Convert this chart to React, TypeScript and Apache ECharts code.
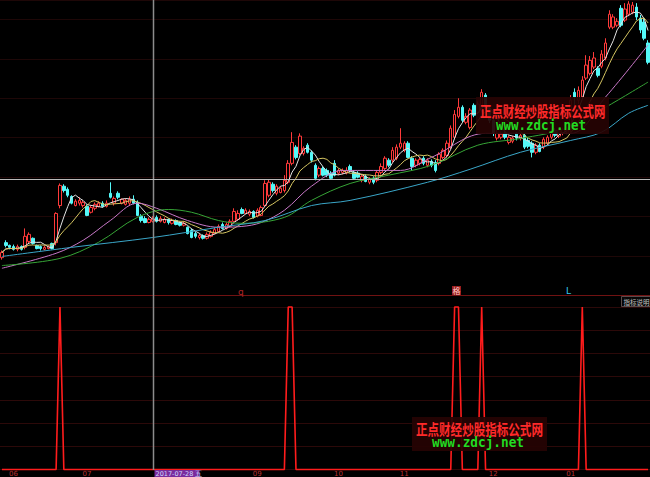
import React, { useEffect, useRef } from 'react';
import * as echarts from 'echarts';

const monthLabels = ['06', '07', '09', '10', '11', '12', '01'];
const monthBars = [3, 22, 66, 87, 104, 127, 147];

const opens = [
  10.96, 11.34, 11.27, 11.24, 11.17, 11.24, 11.22, 11.37, 11.45, 11.27,
  11.24, 11.17, 11.19, 11.32, 11.34, 12.28, 12.77, 12.69, 12.51, 12.28,
  12.34, 12.28, 12.26, 12.11, 12.21, 12.26, 12.34, 12.26, 12.59, 12.34,
  12.59, 12.34, 12.31, 12.34, 12.44, 12.36, 12.01, 11.95, 11.85, 11.88,
  11.98, 11.88, 11.85, 11.93, 11.83, 11.90, 11.85, 11.78, 11.73, 11.65,
  11.57, 11.47, 11.52, 11.45, 11.50, 11.57, 11.62, 11.80, 11.70, 11.75,
  11.88, 11.93, 12.18, 12.08, 12.06, 12.13, 12.01, 12.03, 12.28, 12.54,
  12.82, 12.59, 12.61, 12.66, 12.87, 13.35, 13.76, 13.60, 13.60, 13.81,
  13.63, 13.30, 13.05, 13.22, 13.17, 13.10, 13.35, 13.10, 13.12, 13.10,
  13.27, 13.12, 13.10, 12.92, 13.02, 12.87, 12.97, 12.92, 13.12, 13.22,
  13.43, 13.43, 13.48, 13.76, 13.68, 13.86, 13.48, 13.30, 13.35, 13.48,
  13.30, 13.40, 13.37, 13.35, 13.50, 13.55, 13.76, 14.01, 14.54, 14.77,
  14.39, 14.26, 14.82, 14.64, 14.70, 15.08, 14.75, 14.44, 13.99, 14.01,
  14.11, 13.88, 13.91, 14.09, 13.99, 14.06, 13.93, 13.86, 13.63, 13.81,
  13.76, 13.86, 14.01, 14.19, 14.04, 14.11, 14.14, 14.19, 15.15, 14.95,
  15.03, 15.51, 15.63, 15.79, 15.76, 15.81, 16.02, 16.80, 16.80, 16.85,
  17.28, 16.98, 17.13, 17.18, 17.31, 17.03, 16.93, 16.40,
];

const closes = [
  11.09, 11.27, 11.22, 11.17, 11.24, 11.17, 11.50, 11.55, 11.32, 11.19,
  11.19, 11.22, 11.24, 11.19, 12.08, 12.79, 12.66, 12.54, 12.34, 12.39,
  12.41, 12.36, 12.03, 12.23, 12.31, 12.34, 12.26, 12.34, 12.49, 12.46,
  12.49, 12.44, 12.41, 12.44, 12.34, 12.03, 11.90, 11.85, 11.93, 11.95,
  11.88, 11.95, 11.93, 11.85, 11.90, 11.80, 11.78, 11.83, 11.57, 11.47,
  11.50, 11.52, 11.45, 11.55, 11.60, 11.67, 11.75, 11.70, 11.80, 11.88,
  12.13, 12.08, 12.08, 12.16, 12.13, 11.98, 12.16, 12.23, 12.84, 12.87,
  12.66, 12.77, 12.72, 12.92, 13.35, 13.88, 13.50, 14.04, 13.73, 13.63,
  13.43, 12.97, 13.22, 13.05, 13.05, 12.97, 13.05, 13.17, 13.17, 13.17,
  13.17, 12.97, 13.00, 13.02, 12.89, 12.94, 12.87, 13.12, 13.27, 13.48,
  13.30, 13.68, 13.76, 13.86, 13.86, 13.50, 13.27, 13.43, 13.45, 13.35,
  13.43, 13.30, 13.17, 13.58, 13.68, 13.86, 14.24, 14.59, 14.77, 14.44,
  14.54, 14.70, 14.57, 14.85, 15.15, 14.75, 14.44, 14.11, 14.11, 14.09,
  14.01, 14.01, 13.99, 13.99, 14.06, 13.76, 13.78, 13.63, 13.81, 13.65,
  13.96, 14.01, 14.16, 14.06, 14.19, 14.21, 14.24, 14.95, 15.03, 15.20,
  15.46, 15.84, 15.96, 16.02, 15.58, 16.12, 16.40, 17.13, 17.06, 16.95,
  16.85, 17.26, 17.39, 17.36, 17.06, 16.73, 16.52, 15.91,
];

const lows = [
  10.91, 11.22, 11.17, 11.14, 11.12, 11.14, 11.17, 11.32, 11.29, 11.17,
  11.14, 11.14, 11.17, 11.17, 11.27, 12.21, 12.61, 12.49, 12.31, 12.26,
  12.28, 12.23, 12.01, 12.08, 12.16, 12.23, 12.23, 12.23, 12.46, 12.28,
  12.44, 12.31, 12.28, 12.28, 12.31, 12.01, 11.85, 11.83, 11.83, 11.85,
  11.85, 11.85, 11.83, 11.80, 11.80, 11.78, 11.75, 11.75, 11.55, 11.45,
  11.45, 11.42, 11.42, 11.42, 11.47, 11.55, 11.60, 11.67, 11.67, 11.73,
  11.83, 11.90, 12.06, 12.06, 12.01, 11.95, 11.98, 12.01, 12.26, 12.49,
  12.61, 12.54, 12.59, 12.61, 12.82, 13.30, 13.45, 13.55, 13.55, 13.60,
  13.37, 12.92, 13.00, 13.02, 13.00, 12.94, 13.02, 13.05, 13.07, 13.07,
  13.12, 12.94, 12.97, 12.87, 12.87, 12.82, 12.82, 12.87, 13.07, 13.17,
  13.25, 13.37, 13.43, 13.71, 13.63, 13.48, 13.17, 13.25, 13.30, 13.30,
  13.25, 13.25, 13.12, 13.30, 13.45, 13.50, 13.71, 13.96, 14.49, 14.39,
  14.34, 14.21, 14.52, 14.59, 14.64, 14.70, 14.37, 14.04, 13.93, 13.96,
  13.96, 13.83, 13.86, 13.93, 13.93, 13.71, 13.73, 13.50, 13.58, 13.63,
  13.71, 13.81, 13.96, 14.01, 13.99, 14.06, 14.09, 14.14, 14.82, 14.85,
  14.98, 15.46, 15.58, 15.74, 15.53, 15.76, 15.96, 16.75, 16.75, 16.80,
  16.80, 16.93, 17.08, 17.13, 16.98, 16.65, 16.47, 15.86,
];

const highs = [
  11.14, 11.40, 11.29, 11.29, 11.29, 11.27, 11.70, 11.60, 11.47, 11.29,
  11.27, 11.27, 11.27, 11.34, 12.11, 12.84, 12.82, 12.74, 12.54, 12.44,
  12.49, 12.41, 12.31, 12.28, 12.36, 12.39, 12.39, 12.41, 12.87, 12.51,
  12.64, 12.46, 12.46, 12.51, 12.54, 12.41, 12.06, 12.01, 11.98, 12.01,
  12.03, 12.01, 11.98, 11.95, 11.95, 11.93, 11.88, 11.88, 11.75, 11.70,
  11.62, 11.57, 11.55, 11.60, 11.65, 11.73, 11.80, 11.85, 11.85, 11.93,
  12.21, 12.16, 12.23, 12.21, 12.18, 12.16, 12.21, 12.28, 12.92, 12.94,
  12.87, 12.82, 12.77, 13.05, 13.43, 14.14, 13.81, 14.11, 13.78, 13.86,
  13.68, 13.35, 13.27, 13.27, 13.22, 13.15, 13.43, 13.22, 13.22, 13.25,
  13.32, 13.17, 13.15, 13.07, 13.07, 13.00, 13.02, 13.17, 13.35, 13.53,
  13.48, 13.76, 13.83, 14.24, 13.91, 13.91, 13.53, 13.48, 13.50, 13.53,
  13.48, 13.45, 13.43, 13.63, 13.73, 13.93, 14.31, 14.70, 15.00, 14.82,
  14.62, 14.75, 14.87, 14.92, 15.23, 15.13, 14.80, 14.49, 14.19, 14.16,
  14.16, 14.06, 14.04, 14.14, 14.11, 14.11, 13.99, 13.91, 13.86, 13.86,
  14.01, 14.06, 14.21, 14.24, 14.24, 14.26, 14.29, 15.08, 15.25, 15.30,
  15.56, 16.09, 16.07, 16.17, 15.81, 16.22, 16.52, 17.23, 17.13, 17.03,
  17.36, 17.41, 17.46, 17.44, 17.41, 17.11, 17.03, 16.47,
];

// indicator: bars where the signal fires (value 1), 0 elsewhere
const signalBars = [15, 74, 75, 117, 118, 124, 150];

// longer moving averages: [bar index, price]
const ma20Pts = [
  [0, 10.69], [14, 11.07], [21, 11.40], [28, 11.90], [35, 12.34], [40, 12.21],
  [48, 11.90], [56, 11.73], [62, 11.75], [67, 11.85], [73, 12.16], [80, 12.77],
  [88, 13.17], [96, 13.17], [103, 13.17], [111, 13.50], [125, 14.11], [147, 14.11],
  [156, 15.03], [167, 16.35],
];
const ma30Pts = [
  [0, 10.76], [15, 10.94], [25, 11.35], [35, 11.98], [43, 12.18], [49, 12.11],
  [56, 11.90], [62, 11.83], [73, 11.98], [80, 12.41], [90, 12.84], [100, 13.05],
  [111, 13.30], [123, 13.81], [134, 13.98], [146, 14.24], [156, 14.77], [167, 15.41],
];
const ma60Pts = [
  [0, 10.99], [18, 11.22], [39, 11.47], [56, 11.73], [68, 11.90], [80, 12.28],
  [90, 12.41], [110, 12.87], [121, 13.20], [134, 13.63], [147, 13.93], [155, 14.14],
  [162, 14.62], [167, 14.82],
];

function movingAverage(vals: number[], n: number): number[] {
  return vals.map((_, i) => {
    const s = Math.max(0, i - n + 1);
    let sum = 0;
    for (let k = s; k <= i; k++) sum += vals[k];
    return +(sum / (i - s + 1)).toFixed(3);
  });
}

export default function App() {
  const ref = useRef<HTMLDivElement>(null);

  useEffect(() => {
    if (!ref.current) return;
    const chart = echarts.init(ref.current, null, { renderer: 'svg' });
    const N = closes.length;
    const idx = Array.from({ length: N }, (_, i) => String(i));
    const categories = idx.map((_, i) => {
      const k = monthBars.indexOf(i);
      return k >= 0 ? monthLabels[k] : '';
    });
    const candles = opens.map((o, i) => [o, closes[i], lows[i], highs[i]]);
    const signal = idx.map((_, i) => (signalBars.indexOf(i) >= 0 ? 1 : 0));
    const ma5 = movingAverage(closes, 5);
    const ma10 = movingAverage(closes, 10);

    const smallFont = 'DejaVu Sans';
    const cjk = '"Noto Sans CJK SC", sans-serif';

    const option: any = {
      animation: false,
      backgroundColor: '#000000',
      grid: [
        { left: 0, right: 0, top: 0, bottom: 181.5, outerBoundsMode: 'none', containLabel: false },
        { left: 0, right: 0, top: 307, bottom: 7.5, outerBoundsMode: 'none', containLabel: false },
      ],
      xAxis: [
        {
          type: 'category', gridIndex: 0, data: idx,
          axisLine: { show: true, lineStyle: { color: '#701212', width: 1 } },
          axisTick: { show: false }, axisLabel: { show: false }, splitLine: { show: false },
        },
        {
          type: 'category', gridIndex: 1, data: categories,
          axisLine: { show: false }, axisTick: { show: false },
          axisLabel: { show: true, interval: 0, color: '#b83030', fontSize: 7, fontFamily: smallFont, margin: 1 },
          splitLine: { show: false },
        },
        {
          type: 'value', gridIndex: 0, min: -0.5, max: N - 0.5, show: false,
          splitLine: { show: false },
        },
      ],
      yAxis: [
        {
          type: 'value', gridIndex: 0, min: 10, max: 17.49, interval: 1,
          axisLine: { show: false }, axisTick: { show: false }, axisLabel: { show: false },
          splitLine: { show: true, lineStyle: { color: '#1e0707', width: 1 } },
        },
        {
          type: 'value', gridIndex: 1, min: 0, max: 1,
          axisLine: { show: false }, axisTick: { show: false }, axisLabel: { show: false },
          splitLine: { show: false },
        },
        {
          type: 'value', gridIndex: 1, min: 0, max: 7, interval: 1,
          axisLine: { show: false }, axisTick: { show: false }, axisLabel: { show: false },
          splitLine: { show: true, lineStyle: { color: '#2c0909', width: 1 } },
        },
      ],
      series: [
        {
          type: 'candlestick', xAxisIndex: 0, yAxisIndex: 0, data: candles,
          barWidth: 3,
          itemStyle: {
            color: '#000000', borderColor: '#ff3a3a',
            color0: '#54f8f8', borderColor0: '#54f8f8', borderWidth: 1,
          },
          z: 2,
        },
        {
          type: 'line', xAxisIndex: 0, yAxisIndex: 0, data: ma5, symbol: 'none',
          lineStyle: { color: '#e4e4e4', width: 1 }, z: 3,
        },
        {
          type: 'line', xAxisIndex: 0, yAxisIndex: 0, data: ma10, symbol: 'none',
          lineStyle: { color: '#d6c662', width: 1 }, z: 3,
        },
        {
          type: 'line', xAxisIndex: 2, yAxisIndex: 0, data: ma20Pts, symbol: 'none', smooth: 0.35,
          lineStyle: { color: '#c878c8', width: 1 }, z: 3,
        },
        {
          type: 'line', xAxisIndex: 2, yAxisIndex: 0, data: ma30Pts, symbol: 'none', smooth: 0.35,
          lineStyle: { color: '#36a436', width: 1 }, z: 3,
        },
        {
          type: 'line', xAxisIndex: 2, yAxisIndex: 0, data: ma60Pts, symbol: 'none', smooth: 0.35,
          lineStyle: { color: '#3aa6c8', width: 1 }, z: 3,
        },
        {
          type: 'line', xAxisIndex: 1, yAxisIndex: 1, data: signal, symbol: 'none', clip: false,
          lineStyle: { color: '#ff1c1c', width: 1.6 }, z: 3,
        },
      ],
      graphic: [
        // crosshair
        { type: 'line', shape: { x1: 153.5, y1: 0, x2: 153.5, y2: 470 }, style: { stroke: '#8c8c8c', lineWidth: 1.5 }, z: 50 },
        { type: 'line', shape: { x1: 0, y1: 179.5, x2: 650, y2: 179.5 }, style: { stroke: '#b8b8b8', lineWidth: 1 }, z: 50 },
        // crosshair date label
        { type: 'rect', shape: { x: 154.5, y: 470, width: 45, height: 7 }, style: { fill: '#7a2c9c' }, z: 55 },
        { type: 'text', x: 155.5, y: 473.6, style: { text: '2017-07-28 五', fill: '#cfd8ff', fontSize: 6.5, fontFamily: smallFont, verticalAlign: 'middle' }, z: 56 },
        // small markers on the separator
        { type: 'text', x: 238, y: 291.5, style: { text: 'q', fill: '#b02424', fontSize: 9, fontFamily: smallFont, verticalAlign: 'middle' }, z: 40 },
        { type: 'rect', shape: { x: 452, y: 286, width: 9, height: 9 }, style: { fill: '#9a1e1e' }, z: 40 },
        { type: 'text', x: 452.5, y: 290.8, style: { text: '格', fill: '#ffc8c8', fontSize: 8, fontFamily: cjk, verticalAlign: 'middle' }, z: 41 },
        { type: 'text', x: 566, y: 291, style: { text: 'L', fill: '#36c8f0', fontSize: 9, fontFamily: smallFont, verticalAlign: 'middle' }, z: 40 },
        // indicator note button
        { type: 'rect', shape: { x: 621.5, y: 296.5, width: 36, height: 10 }, style: { fill: '#060606', stroke: '#5a4a4a', lineWidth: 1 }, z: 40 },
        { type: 'text', x: 623.5, y: 301.8, style: { text: '指标说明', fill: '#c4c4c4', fontSize: 6.5, fontFamily: cjk, verticalAlign: 'middle' }, z: 41 },
        // upper watermark
        { type: 'rect', shape: { x: 476, y: 97, width: 133, height: 37 }, style: { fill: 'rgba(38,3,3,0.93)' }, z: 60 },
        {
          type: 'text', x: 480, y: 103.5, scaleX: 0.76,
          style: { text: '正点财经炒股指标公式网', fill: '#ff2a2a', fontSize: 15, fontWeight: 'bold', fontFamily: cjk, verticalAlign: 'top' }, z: 61,
        },
        {
          type: 'text', x: 496, y: 125.5, scaleX: 0.89,
          style: { text: 'www.zdcj.net', fill: '#22dc22', fontSize: 14, fontWeight: 'bold', fontFamily: 'DejaVu Sans Mono', verticalAlign: 'middle' }, z: 61,
        },
        // lower watermark
        { type: 'rect', shape: { x: 412, y: 417, width: 135, height: 34 }, style: { fill: 'rgba(38,3,3,0.93)' }, z: 60 },
        {
          type: 'text', x: 416, y: 421, scaleX: 0.77,
          style: { text: '正点财经炒股指标公式网', fill: '#ff2a2a', fontSize: 15, fontWeight: 'bold', fontFamily: cjk, verticalAlign: 'top' }, z: 61,
        },
        {
          type: 'text', x: 432, y: 442.5, scaleX: 0.91,
          style: { text: 'www.zdcj.net', fill: '#22dc22', fontSize: 14, fontWeight: 'bold', fontFamily: 'DejaVu Sans Mono', verticalAlign: 'middle' }, z: 61,
        },
      ],
    };

    chart.setOption(option);
    return () => chart.dispose();
  }, []);

  return (
    <div
      ref={ref}
      style={{ position: 'fixed', left: 0, top: 0, width: 650, height: 477, background: '#000' }}
    />
  );
}
